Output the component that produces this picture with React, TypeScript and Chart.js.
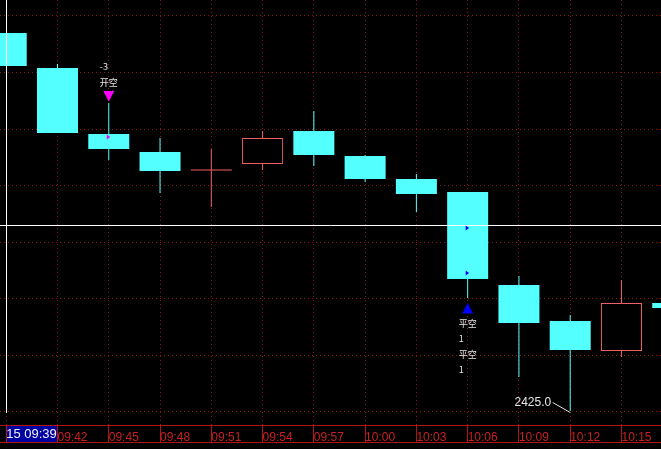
import { useEffect, useRef } from 'react';
import { Chart, registerables } from 'chart.js';

Chart.register(...registerables);

// ---- data ----
const timeLabels = ['09:39', '09:42', '09:45', '09:48', '09:51', '09:54', '09:57', '10:00', '10:03', '10:06', '10:09', '10:12', '10:15', '10:18'];
const cursorLabel = '15 09:39';
const opens = [2462.8, 2459.3, 2452.7, 2450.9, 2449.1, 2449.7, 2453.0, 2450.5, 2448.2, 2446.9, 2437.6, 2434.0, 2431.0, 2435.8];
const highs = [2462.8, 2459.7, 2455.8, 2452.3, 2451.2, 2453.0, 2455.0, 2450.6, 2448.7, 2446.9, 2438.5, 2434.6, 2438.1, 2435.8];
const lows = [2459.5, 2452.8, 2450.1, 2446.8, 2445.4, 2449.1, 2449.5, 2447.9, 2444.9, 2436.3, 2428.4, 2425.0, 2430.4, 2435.3];
const closes = [2459.5, 2452.8, 2451.2, 2449.0, 2449.1, 2452.3, 2450.6, 2448.2, 2446.7, 2438.2, 2433.8, 2431.1, 2435.8, 2435.3];
const yGridTicks = [2424.93, 2430.58, 2436.24, 2441.89, 2447.54, 2453.2, 2458.85, 2464.5];
const crossIndex = 0;
const crossPrice = 2443.6;
const signalIndex = [2, 9];
const signalSide = ['above', 'below'];
const signalTexts = [['-3', '开空'], ['平空', '1', '平空', '1']];
const signalInnerPrices = [[2452.4], [2443.3, 2438.8]];

// ---- view window / styles ----
const xMin = -0.1215;
const xMax = 12.771;
const yMin = 2423.6;
const yMax = 2466.1;
const CYAN = '#54ffff';
const RED = '#f06060';
const GRID = '#8c1818';
const AXIS = '#b01515';
const LABEL = '#c82020';
const TICK_LEN = 18;
const signalColor = ['#ff00ff', '#0000ff'];

const isUp = (i: number) => closes[i] >= opens[i];

const bgPlugin = {
  id: 'bgPlugin',
  beforeDraw(chart: any) {
    const { ctx, width, height } = chart;
    const x = chart.scales.x;
    ctx.save();
    ctx.fillStyle = '#000';
    ctx.fillRect(0, 0, width, height);
    const x0 = Math.round(x.getPixelForValue(crossIndex));
    const x1 = Math.round(x.getPixelForValue(crossIndex + 1));
    ctx.fillStyle = '#0000a0';
    ctx.fillRect(x0, x.top + 1, x1 - x0, TICK_LEN - 1);
    ctx.restore();
  },
};

const overlayPlugin = {
  id: 'overlayPlugin',
  afterDatasetsDraw(chart: any) {
    const { ctx, chartArea } = chart;
    const x = chart.scales.x;
    const y = chart.scales.y;
    ctx.save();
    // crosshair
    ctx.strokeStyle = '#ffffff';
    ctx.lineWidth = 1;
    const cx = Math.round(x.getPixelForValue(crossIndex)) + 0.5;
    const cy = Math.round(y.getPixelForValue(crossPrice)) + 0.5;
    ctx.beginPath();
    ctx.moveTo(cx, chartArea.top);
    ctx.lineTo(cx, chartArea.bottom - 12);
    ctx.moveTo(chartArea.left, cy);
    ctx.lineTo(chartArea.right, cy);
    ctx.stroke();

    // signals
    const tw = 11;
    const th = 10.5;
    signalIndex.forEach((idx, s) => {
      const px = x.getPixelForValue(idx);
      const col = signalColor[s];
      ctx.fillStyle = col;
      signalInnerPrices[s].forEach((p) => {
        const py = y.getPixelForValue(p);
        ctx.beginPath();
        ctx.moveTo(px - 2, py - 2.5);
        ctx.lineTo(px + 1.5, py);
        ctx.lineTo(px - 2, py + 2.5);
        ctx.closePath();
        ctx.fill();
      });
      ctx.font = '9px "Noto Sans CJK SC", "Liberation Sans", sans-serif';
      ctx.textAlign = 'left';
      ctx.textBaseline = 'middle';
      const texts = signalTexts[s];
      if (signalSide[s] === 'above') {
        const apex = y.getPixelForValue(highs[idx]) - 1.5;
        ctx.fillStyle = col;
        ctx.beginPath();
        ctx.moveTo(px - tw / 2, apex - th);
        ctx.lineTo(px + tw / 2, apex - th);
        ctx.lineTo(px, apex);
        ctx.closePath();
        ctx.fill();
        ctx.fillStyle = '#e6e6e6';
        let ty = apex - th - 8.5;
        for (let k = texts.length - 1; k >= 0; k--) {
          ctx.fillText(texts[k], px - 9, ty);
          ty -= 16;
        }
      } else {
        const apex = y.getPixelForValue(lows[idx]) + 5;
        ctx.fillStyle = col;
        ctx.beginPath();
        ctx.moveTo(px, apex);
        ctx.lineTo(px + tw / 2, apex + th);
        ctx.lineTo(px - tw / 2, apex + th);
        ctx.closePath();
        ctx.fill();
        ctx.fillStyle = '#e6e6e6';
        let ty = apex + th + 10;
        for (let k = 0; k < texts.length; k++) {
          ctx.fillText(texts[k], px - 9, ty);
          ty += 15.5;
        }
      }
    });

    // lowest price label
    let li = 0;
    lows.forEach((v, i) => {
      if (v < lows[li]) li = i;
    });
    const lx = x.getPixelForValue(li);
    const ly = y.getPixelForValue(lows[li]);
    ctx.strokeStyle = '#e6e6e6';
    ctx.beginPath();
    ctx.moveTo(lx - 17.5, ly - 8.5);
    ctx.lineTo(lx, ly + 1.5);
    ctx.stroke();
    ctx.fillStyle = '#e6e6e6';
    ctx.font = '12px "Liberation Sans", Arial, sans-serif';
    ctx.textAlign = 'right';
    ctx.textBaseline = 'middle';
    ctx.fillText(lows[li].toFixed(1), lx - 19, ly - 8.5);
    ctx.restore();
  },
  afterDraw(chart: any) {
    const { ctx, width } = chart;
    const x = chart.scales.x;
    ctx.save();
    ctx.strokeStyle = AXIS;
    ctx.lineWidth = 1;
    const by = Math.round(x.top + TICK_LEN) - 0.5;
    ctx.beginPath();
    ctx.moveTo(0, by);
    ctx.lineTo(width, by);
    ctx.stroke();
    ctx.restore();
  },
};

export default function App() {
  const ref = useRef<HTMLCanvasElement>(null);

  useEffect(() => {
    document.body.style.margin = '0';
    document.body.style.background = '#000';
    const idx = timeLabels.map((_, i) => i);
    const wickData = idx.map((i) => ({ x: i, y: [lows[i], highs[i]] }));
    const bodyData = idx.map((i) =>
      opens[i] === closes[i]
        ? { x: i, y: [opens[i] - 0.05, opens[i] + 0.05] }
        : { x: i, y: [opens[i], closes[i]] }
    );
    const chart = new Chart(ref.current as HTMLCanvasElement, {
      type: 'bar',
      data: {
        datasets: [
          {
            label: 'body',
            data: bodyData as any,
            barThickness: 41,
            grouped: false,
            order: 0,
            inflateAmount: 0,
            borderSkipped: false,
            backgroundColor: idx.map((i) => (opens[i] === closes[i] ? RED : isUp(i) ? '#000000' : CYAN)),
            borderColor: idx.map((i) => (isUp(i) ? RED : CYAN)),
            borderWidth: idx.map((i) => (isUp(i) && opens[i] !== closes[i] ? 1 : 0)),
          } as any,
          {
            label: 'wick',
            data: wickData as any,
            barThickness: 1,
            grouped: false,
            order: 1,
            inflateAmount: 0,
            borderWidth: 0,
            backgroundColor: idx.map((i) => (isUp(i) ? RED : CYAN)),
          } as any,
        ],
      },
      options: {
        responsive: false,
        animation: false,
        devicePixelRatio: 1,
        events: [],
        layout: { padding: { left: 0, right: 0, top: 0, bottom: 5 } },
        plugins: {
          legend: { display: false },
          tooltip: { enabled: false },
          title: { display: false },
        },
        scales: {
          x: {
            type: 'linear',
            position: 'bottom',
            min: xMin,
            max: xMax,
            offset: false,
            title: {
              display: true,
              text: ' ',
              color: 'rgba(0,0,0,0)',
              padding: 0,
              font: { size: 10, lineHeight: 1.2 },
            },
            grid: {
              display: true,
              offset: false,
              color: GRID,
              lineWidth: 1,
              drawOnChartArea: true,
              drawTicks: true,
              tickLength: TICK_LEN,
              tickColor: AXIS,
              tickWidth: 1,
              tickBorderDash: [],
            } as any,
            border: { display: true, color: AXIS, width: 1, dash: [1, 3] },
            ticks: {
              autoSkip: false,
              maxRotation: 0,
              minRotation: 0,
              align: 'start',
              padding: -12.7,
              color: (c: any) => (c.index === crossIndex ? '#f0f0f0' : LABEL),
              font: (c: any) =>
                c.index === crossIndex
                  ? { family: '"Liberation Sans", Arial, sans-serif', size: 13, lineHeight: 0.646 }
                  : { family: '"Liberation Sans", Arial, sans-serif', size: 12, lineHeight: 1.2 },
              callback: (v: any) => {
                const i = Math.round(Number(v));
                return i === crossIndex ? cursorLabel : timeLabels[i];
              },
            } as any,
            afterBuildTicks: (s: any) => {
              s.ticks = timeLabels.map((_, i) => i).filter((i) => i >= xMin && i <= xMax).map((v) => ({ value: v }));
            },
          },
          y: {
            type: 'linear',
            position: 'left',
            min: yMin,
            max: yMax,
            beginAtZero: false,
            grid: { color: GRID, lineWidth: 1, drawTicks: false, offset: false } as any,
            border: { display: false, dash: [1, 3] },
            ticks: { display: false },
            afterBuildTicks: (s: any) => {
              s.ticks = yGridTicks.map((v) => ({ value: v }));
            },
          },
        },
      },
      plugins: [bgPlugin, overlayPlugin],
    } as any);
    return () => chart.destroy();
  }, []);

  return (
    <canvas
      ref={ref}
      width={661}
      height={449}
      style={{ display: 'block', width: 661, height: 449 }}
    />
  );
}
